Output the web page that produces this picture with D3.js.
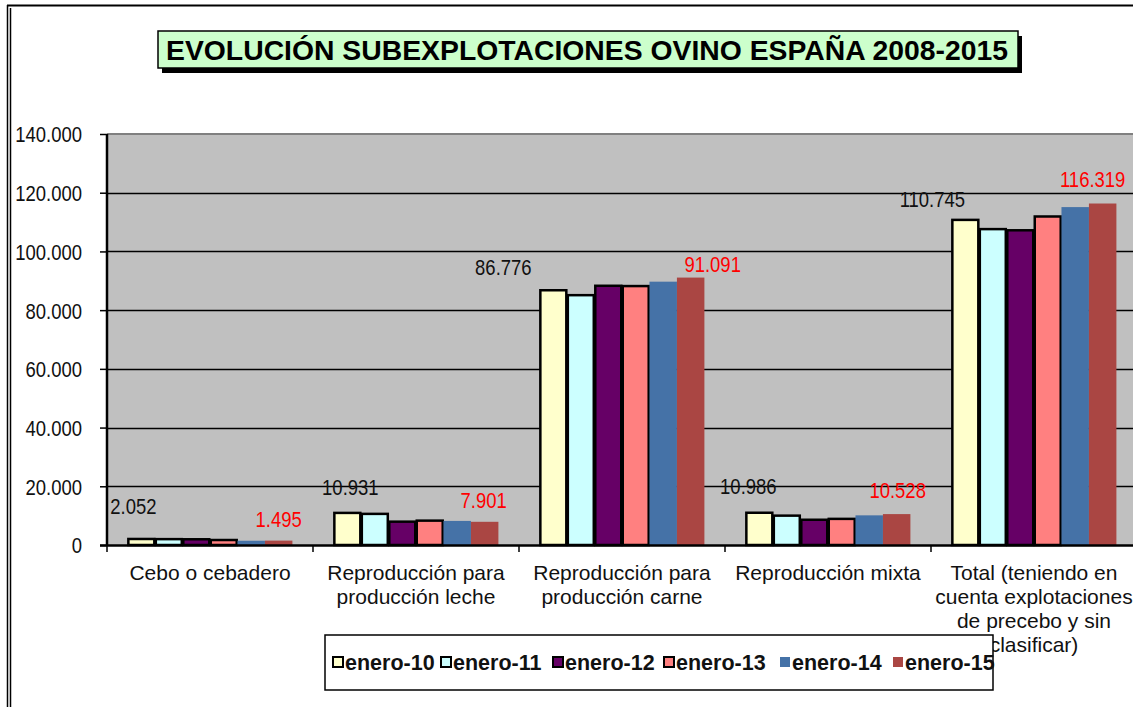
<!DOCTYPE html>
<html>
<head>
<meta charset="utf-8">
<script src="https://cdn.jsdelivr.net/npm/d3@7/dist/d3.min.js"></script>
<style>
  html, body { margin: 0; padding: 0; background: #fff; overflow: hidden; }
  svg { display: block; }
  text { font-family: "Liberation Sans", Arial, sans-serif; }
</style>
</head>
<body>
<script>
// ---------- DATA ----------
const title = "EVOLUCIÓN SUBEXPLOTACIONES OVINO ESPAÑA 2008-2015";
const categories = [
  ["Cebo o cebadero"],
  ["Reproducción para", "producción leche"],
  ["Reproducción para", "producción carne"],
  ["Reproducción mixta"],
  ["Total (teniendo en", "cuenta explotaciones", "de precebo y sin", "clasificar)"]
];
const seriesNames = ["enero-10", "enero-11", "enero-12", "enero-13", "enero-14", "enero-15"];
const enero10 = [2052, 10931, 86776, 10986, 110745];
const enero11 = [2000, 10600, 85100, 10000, 107600];
const enero12 = [1950, 7950, 88300, 8600, 107200];
const enero13 = [1700, 8300, 88200, 8900, 111900];
const enero14 = [1450, 8200, 89700, 10100, 115100];
const enero15 = [1495, 7901, 91091, 10528, 116319];
const yTicks = [0, 20000, 40000, 60000, 80000, 100000, 120000, 140000];

// ---------- STYLE / LAYOUT ----------
const colors = ["#FFFFCC", "#CCFFFF", "#660066", "#FF8080", "#4572A7", "#AA4643"];
const bordered = [true, true, true, true, false, false];
// manual label nudges (dx, dy from bar top-center), as placed in the original
const nudge10 = [[-8, -33], [3, -26], [-50, -23], [-11, -27], [-33, -21]];
const nudge15 = [[0, -22], [-1, -22], [22, -14], [1, -24], [-10, -24]];
const numScaleX = 0.84;   // the original's numbers are drawn condensed

const W = 1133, H = 707;
const svg = d3.select("body").append("svg").attr("width", W).attr("height", H);

const allSeries = [enero10, enero11, enero12, enero13, enero14, enero15];
const catIdx = categories.map((d, i) => i);

const plot = {left: 107, top: 134, bottom: 545, right: 107 + 5 * 206};
const x0 = d3.scaleBand().domain(catIdx).range([plot.left, plot.right]).padding(0);
const x1 = d3.scaleBand().domain(d3.range(seriesNames.length)).range([0, x0.bandwidth()])
  .paddingInner(0).paddingOuter(0.75);
const y = d3.scaleLinear().domain([0, 140000]).range([plot.bottom, plot.top]);

// outer frame
svg.append("line").attr("x1", 7).attr("x2", W).attr("y1", 5.5).attr("y2", 5.5).attr("stroke", "#000").attr("stroke-width", 2);
svg.append("line").attr("x1", 7.5).attr("x2", 7.5).attr("y1", 5).attr("y2", H).attr("stroke", "#000").attr("stroke-width", 1.5);
svg.append("line").attr("x1", 10.5).attr("x2", 10.5).attr("y1", 8).attr("y2", H).attr("stroke", "#000").attr("stroke-width", 1.5);

// plot background
svg.append("rect").attr("x", plot.left).attr("y", plot.top)
  .attr("width", plot.right - plot.left).attr("height", plot.bottom - plot.top)
  .attr("fill", "#C0C0C0");
svg.append("line").attr("x1", plot.left).attr("x2", plot.right).attr("y1", plot.top).attr("y2", plot.top)
  .attr("stroke", "#808080").attr("stroke-width", 2);

// gridlines
svg.append("g").selectAll("line").data(yTicks.filter(t => t > 0 && t < 140000)).join("line")
  .attr("x1", plot.left).attr("x2", plot.right)
  .attr("y1", d => Math.round(y(d)) + 0.5).attr("y2", d => Math.round(y(d)) + 0.5)
  .attr("stroke", "#000").attr("stroke-width", 1.3);

// y axis
const fmt = d => d3.format(",")(d).replace(/,/g, ".");
const yAxis = d3.axisLeft(y).tickValues(yTicks).tickFormat(fmt).tickSize(7).tickPadding(18);
const gy = svg.append("g").attr("transform", `translate(${plot.left},0)`).call(yAxis);
gy.select(".domain").remove();
gy.selectAll(".tick line").attr("stroke", "#000").attr("stroke-width", 1.5);
gy.selectAll(".tick text").attr("font-size", 22).attr("fill", "#111").attr("dy", "0.36em")
  .attr("x", 0).attr("transform", `translate(-25,0) scale(${numScaleX},1)`);
svg.append("line").attr("x1", plot.left).attr("x2", plot.left).attr("y1", plot.top).attr("y2", plot.bottom + 1)
  .attr("stroke", "#000").attr("stroke-width", 2.5);

// bars
const gBars = svg.append("g");
allSeries.forEach((vals, s) => {
  gBars.append("g").selectAll("rect").data(vals).join("rect")
    .attr("x", (d, i) => x0(i) + x1(s) + (bordered[s] ? 0.75 : 0))
    .attr("y", d => y(d))
    .attr("width", x1.bandwidth() - (bordered[s] ? 1.5 : 0))
    .attr("height", d => plot.bottom - y(d))
    .attr("fill", colors[s])
    .attr("stroke", bordered[s] ? "#000" : "none")
    .attr("stroke-width", bordered[s] ? 2.5 : 0);
});

// x axis line and ticks
svg.append("line").attr("x1", plot.left - 7).attr("x2", plot.right).attr("y1", plot.bottom + 0.5).attr("y2", plot.bottom + 0.5)
  .attr("stroke", "#000").attr("stroke-width", 2.5);
svg.append("g").selectAll("line").data(d3.range(categories.length + 1)).join("line")
  .attr("x1", i => plot.left + i * x0.step()).attr("x2", i => plot.left + i * x0.step())
  .attr("y1", plot.bottom).attr("y2", plot.bottom + 7)
  .attr("stroke", "#000").attr("stroke-width", 1.5);

// category labels
const gCat = svg.append("g");
categories.forEach((lines, i) => {
  const t = gCat.append("text").attr("text-anchor", "middle").attr("font-size", 21).attr("fill", "#111");
  lines.forEach((ln, k) => {
    t.append("tspan").attr("x", x0(i) + x0.bandwidth() / 2).attr("y", 580 + k * 24).text(ln);
  });
});

// data labels
const gLab = svg.append("g");
function placeLabels(vals, s, nudge, cls, color) {
  gLab.selectAll("text." + cls).data(vals).join("text").attr("class", cls)
    .attr("transform", (d, i) =>
      `translate(${x0(i) + x1(s) + x1.bandwidth() / 2 + nudge[i][0]},${y(d) + nudge[i][1]}) scale(${numScaleX},1)`)
    .attr("dy", "0.36em").attr("text-anchor", "middle").attr("font-size", 22).attr("fill", color)
    .text(fmt);
}
placeLabels(enero10, 0, nudge10, "l10", "#111");
placeLabels(enero15, 5, nudge15, "l15", "#FF0000");

// title
const tb = {x: 158, y: 31, w: 860, h: 37};
svg.append("rect").attr("x", tb.x + 4).attr("y", tb.y + 5).attr("width", tb.w).attr("height", tb.h).attr("fill", "#000");
svg.append("rect").attr("x", tb.x).attr("y", tb.y).attr("width", tb.w).attr("height", tb.h)
  .attr("fill", "#CCFFCC").attr("stroke", "#000").attr("stroke-width", 1.5);
svg.append("text").attr("x", tb.x + 8).attr("y", tb.y + tb.h / 2).attr("dy", "0.36em")
  .attr("font-size", 28).attr("font-weight", "bold").attr("fill", "#000")
  .attr("textLength", 842).attr("lengthAdjust", "spacingAndGlyphs")
  .text(title);

// legend
const lg = {x: 325, y: 635, w: 668, h: 55};
svg.append("rect").attr("x", lg.x).attr("y", lg.y).attr("width", lg.w).attr("height", lg.h)
  .attr("fill", "#fff").attr("stroke", "#000").attr("stroke-width", 1.5);
const legX = [333, 441, 553, 664, 780, 893];
const gLeg = svg.append("g");
seriesNames.forEach((name, s) => {
  gLeg.append("rect").attr("x", legX[s]).attr("y", 657).attr("width", 10).attr("height", 10)
    .attr("fill", colors[s]).attr("stroke", bordered[s] ? "#000" : "none").attr("stroke-width", 2);
  gLeg.append("text").attr("x", legX[s] + 12).attr("y", 662).attr("dy", "0.36em")
    .attr("font-size", 21.5).attr("font-weight", "bold").attr("fill", "#111").text(name);
});
</script>
</body>
</html>
